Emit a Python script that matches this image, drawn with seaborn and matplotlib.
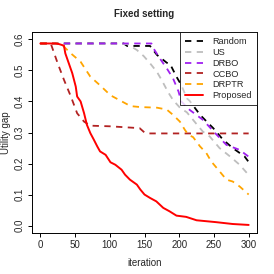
import pandas as pd
import matplotlib
matplotlib.use('Agg')
import matplotlib.pyplot as plt
import seaborn as sns

# series (iteration, utility gap)
random_x = [0, 120, 125, 158, 168, 182, 187, 196, 203, 211, 215, 230, 244, 249, 263, 277, 294, 300]
random_y = [0.587, 0.587, 0.579, 0.579, 0.55, 0.525, 0.52, 0.48, 0.453, 0.41, 0.402, 0.357, 0.325, 0.314, 0.277, 0.25, 0.223, 0.205]

us_x = [0, 125, 139, 149, 158, 168, 175, 184, 191, 201, 211, 225, 234, 244, 258, 273, 287, 300]
us_y = [0.587, 0.585, 0.566, 0.546, 0.523, 0.495, 0.468, 0.43, 0.405, 0.38, 0.365, 0.327, 0.303, 0.287, 0.25, 0.223, 0.196, 0.163]

drbo_x = [0, 160, 163, 172, 182, 191, 199, 203, 215, 234, 253, 268, 287, 300]
drbo_y = [0.587, 0.587, 0.571, 0.539, 0.507, 0.475, 0.432, 0.40, 0.373, 0.341, 0.295, 0.26, 0.244, 0.222]

ccbo_x = [0, 15, 25, 34, 44, 53, 63, 72, 100, 143, 150, 155, 300]
ccbo_y = [0.587, 0.587, 0.523, 0.47, 0.416, 0.362, 0.335, 0.322, 0.32, 0.314, 0.30, 0.297, 0.297]

drptr_x = [0, 25, 30, 44, 58, 72, 86, 101, 115, 130, 144, 168, 182, 191, 201, 208, 213, 220,
           230, 239, 246, 258, 268, 277, 287, 300]
drptr_y = [0.587, 0.587, 0.585, 0.555, 0.528, 0.48, 0.452, 0.42, 0.403, 0.385, 0.382, 0.38, 0.374,
           0.357, 0.335, 0.309, 0.293, 0.285, 0.255, 0.234, 0.207, 0.175, 0.148, 0.142, 0.126, 0.10]

prop_x = [0, 22, 27, 34, 36, 41, 46, 51, 53, 58, 63, 67, 72, 77, 82, 86, 94, 101, 108, 117, 122,
          129, 139, 144, 150, 158, 167, 177, 186, 196, 210, 225, 253, 277, 300]
prop_y = [0.587, 0.587, 0.585, 0.58, 0.555, 0.523, 0.491, 0.448, 0.416, 0.40, 0.362, 0.325, 0.298,
          0.277, 0.255, 0.239, 0.228, 0.204, 0.196, 0.18, 0.164, 0.148, 0.132, 0.116, 0.10, 0.089,
          0.078, 0.057, 0.046, 0.032, 0.028, 0.017, 0.011, 0.005, 0.002]

names = ['Random', 'US', 'DRBO', 'CCBO', 'DRPTR', 'Proposed']
xs = [random_x, us_x, drbo_x, ccbo_x, drptr_x, prop_x]
ys = [random_y, us_y, drbo_y, ccbo_y, drptr_y, prop_y]
colors = ['black', '#BEBEBE', '#A020F0', '#B22222', '#FFA500', 'red']

sns.set_style('white')
plt.rcParams['font.family'] = ['Liberation Sans', 'DejaVu Sans']

fig = plt.figure(figsize=(2.74, 2.74), dpi=100)
ax = fig.add_axes([32 / 274, 41 / 274, 225 / 274, 201 / 274])

for name, x, y, c in zip(names, xs, ys, colors):
    df = pd.DataFrame({'iteration': x, 'gap': y})
    if name == 'Proposed':
        sns.lineplot(data=df, x='iteration', y='gap', color=c, lw=1.4, label=name,
                     estimator=None, sort=False, ax=ax)
    else:
        sns.lineplot(data=df, x='iteration', y='gap', color=c, lw=1.3, label=name,
                     estimator=None, sort=False, ax=ax, dashes=False, linestyle=(0, (3.5, 3)))

ax.set_xlim(-12, 312)
ax.set_ylim(-0.024, 0.624)
ax.set_xticks(range(0, 301, 50))
ax.set_yticks([0.0, 0.1, 0.2, 0.3, 0.4, 0.5, 0.6])
ax.set_yticklabels(['0.0', '0.1', '0.2', '0.3', '0.4', '0.5', '0.6'], rotation=90, va='center')
ax.tick_params(axis='both', which='both', direction='out', length=3, width=0.7,
               labelsize=7, pad=2, color='black', bottom=True, left=True)
for s in ax.spines.values():
    s.set_color('black')
    s.set_linewidth(0.7)

ax.set_xlabel('iteration', fontsize=7, labelpad=6)
ax.set_ylabel('Utility gap', fontsize=7, labelpad=3)
ax.set_title('Fixed setting', fontsize=7, fontweight='bold', pad=11)

leg = ax.legend(loc='upper right', fontsize=6.6, frameon=True, fancybox=False,
                borderaxespad=0, handlelength=2.0, handletextpad=1.0,
                labelspacing=0.2, borderpad=0.55)
leg.get_frame().set_edgecolor('black')
leg.get_frame().set_linewidth(0.7)

fig.savefig('out.png', dpi=100)
